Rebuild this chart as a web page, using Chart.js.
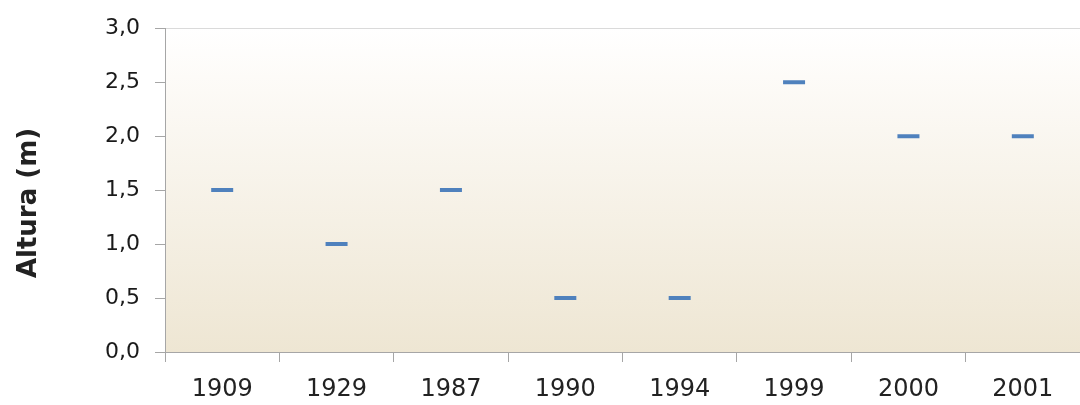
<!DOCTYPE html>
<html>
<head>
<meta charset="utf-8">
<script src="https://cdn.jsdelivr.net/npm/chart.js@4"></script>
<style>
  html, body { margin: 0; padding: 0; background: #ffffff; }
  #wrap { width: 1080px; height: 405px; }
</style>
</head>
<body>
<div id="wrap"><canvas id="chart"></canvas></div>
<script>
// data
var years = ["1909", "1929", "1987", "1990", "1994", "1999", "2000", "2001"];
var alturas = [1.5, 1.0, 1.5, 0.5, 0.5, 2.5, 2.0, 2.0];
var yTicks = [0, 0.5, 1.0, 1.5, 2.0, 2.5, 3.0];
var yTitle = "Altura (m)";

var axisGray = "#a6a6a6";

// beige gradient behind the plot area, and the y title drawn a bit below centre
var plotBackground = {
    id: "plotBackground",
    beforeDraw: function(chart) {
        var a = chart.chartArea, ctx = chart.ctx;
        var g = ctx.createLinearGradient(0, a.top, 0, a.bottom);
        g.addColorStop(0, "#ffffff");
        g.addColorStop(0.15, "#fdfbf8");
        g.addColorStop(1, "#eee6d3");
        ctx.save();
        ctx.fillStyle = g;
        ctx.fillRect(a.left, a.top, a.right - a.left, a.bottom - a.top);
        ctx.restore();
    },
    afterDraw: function(chart) {
        var ctx = chart.ctx;
        ctx.save();
        ctx.translate(29, 203);
        ctx.rotate(-Math.PI / 2);
        ctx.font = "bold 26px 'DejaVu Sans'";
        ctx.fillStyle = "#222222";
        ctx.textAlign = "center";
        ctx.textBaseline = "middle";
        ctx.fillText(yTitle, 0, 0);
        ctx.restore();
    }
};

new Chart(document.getElementById("chart"), {
    type: "line",
    data: {
        labels: years,
        datasets: [{
            data: alturas,
            showLine: false,
            pointStyle: "line",
            pointRadius: 11,
            pointHoverRadius: 11,
            pointBorderWidth: 4,
            pointHoverBorderWidth: 4,
            pointBorderColor: "#4f81bd",
            pointBackgroundColor: "#4f81bd"
        }]
    },
    options: {
        responsive: true,
        maintainAspectRatio: false,
        devicePixelRatio: 1,
        animation: false,
        layout: { autoPadding: false, padding: { top: 28, left: 0, right: 0, bottom: 0 } },
        plugins: {
            legend: { display: false },
            tooltip: { enabled: false }
        },
        scales: {
            x: {
                offset: true,
                grid: {
                    offset: true,
                    drawOnChartArea: false,
                    tickLength: 10,
                    color: axisGray
                },
                border: { color: axisGray },
                ticks: {
                    font: { family: "DejaVu Sans", size: 24 },
                    color: "#222222",
                    padding: 13,
                    maxRotation: 0
                },
                afterFit: function(s) {
                    s.height = 53;
                    s.paddingLeft = 0;
                    s.paddingRight = 0;
                }
            },
            y: {
                min: 0,
                max: 3,
                afterBuildTicks: function(s) {
                    s.ticks = yTicks.map(function(v) { return { value: v }; });
                },
                grid: {
                    color: function(c) { return c.tick && c.tick.value === 3 ? "#dadada" : "rgba(0,0,0,0)"; },
                    tickColor: axisGray,
                    tickLength: 10
                },
                border: { color: axisGray },
                ticks: {
                    font: { family: "DejaVu Sans", size: 22 },
                    color: "#1a1a1a",
                    padding: 15,
                    callback: function(v) { return Number(v).toFixed(1).replace(".", ","); }
                },
                afterFit: function(s) { s.width = 165; }
            }
        }
    },
    plugins: [plotBackground]
});
</script>
</body>
</html>
